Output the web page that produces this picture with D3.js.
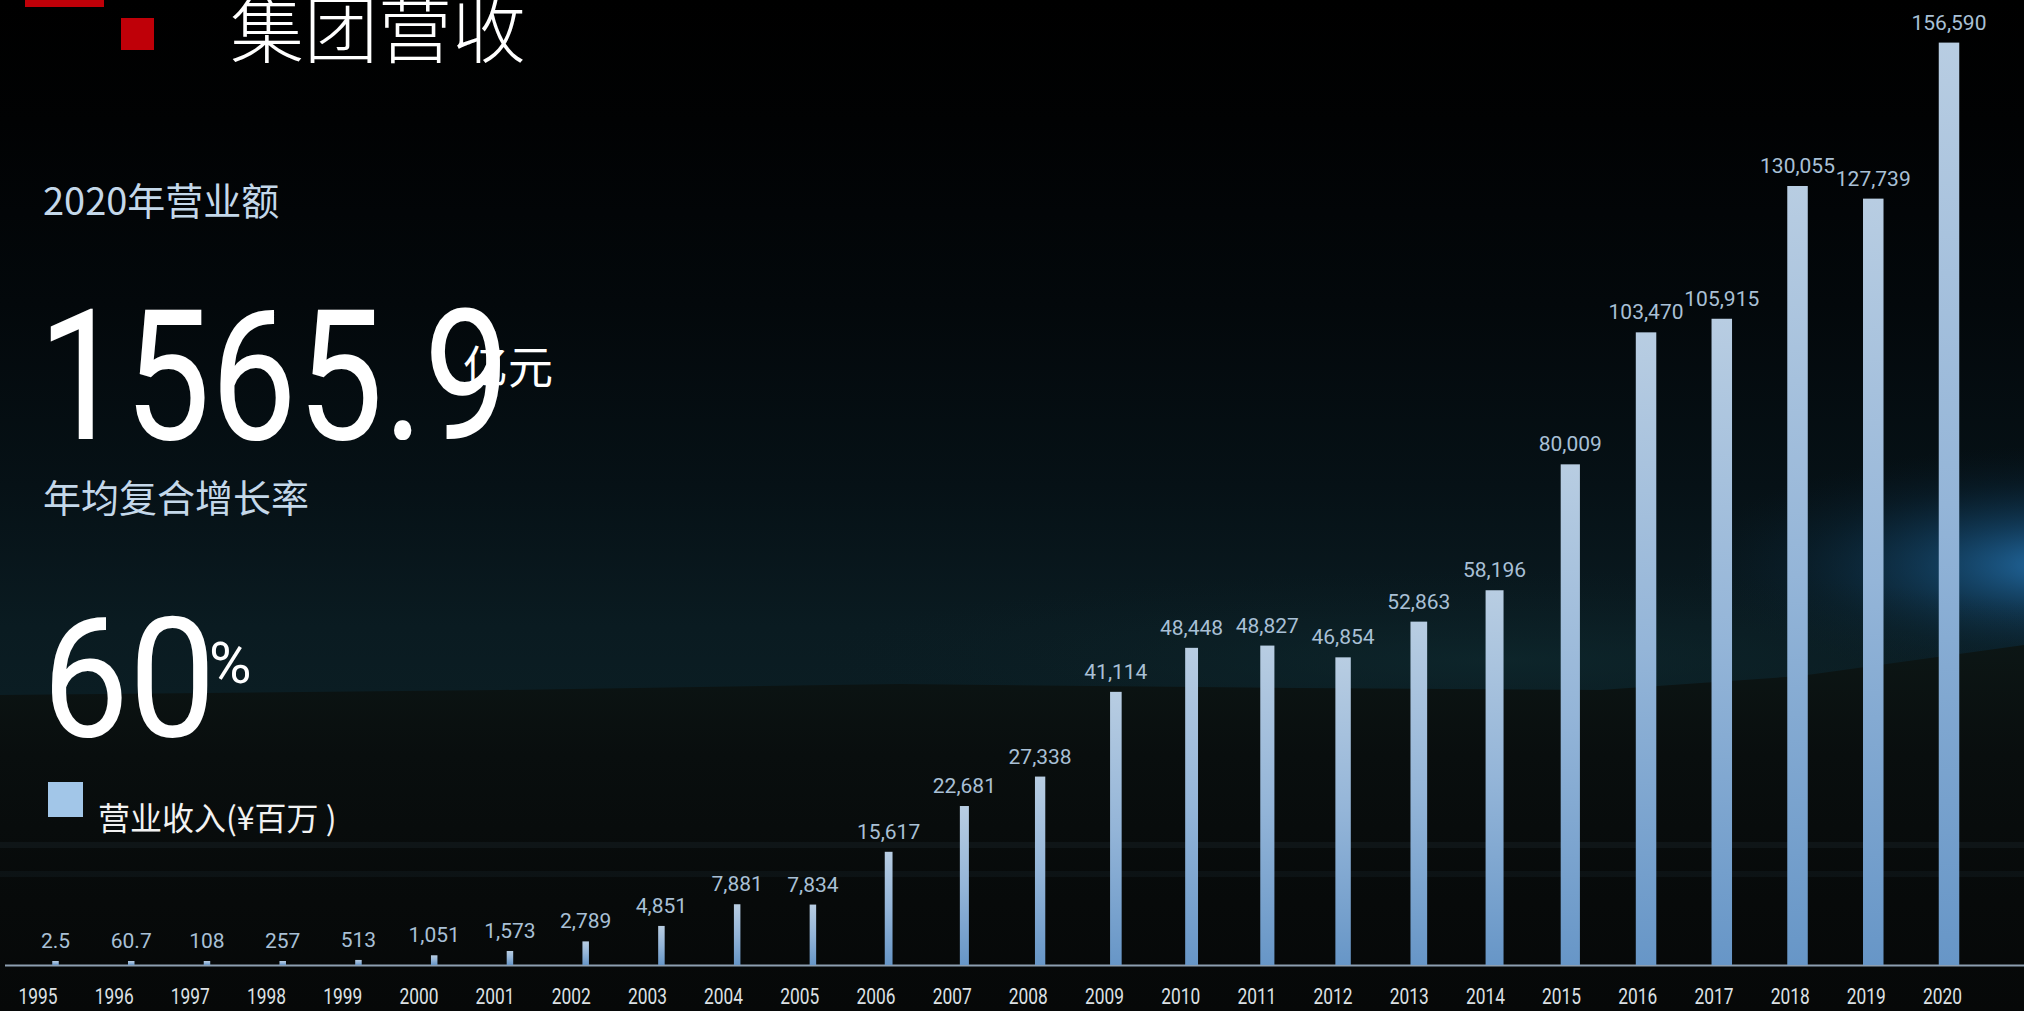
<!DOCTYPE html>
<html><head><meta charset="utf-8">
<script src="https://cdn.jsdelivr.net/npm/d3@7/dist/d3.min.js"></script>
<style>html,body{margin:0;padding:0;background:#000;overflow:hidden}svg{display:block}</style>
</head><body>
<svg id="chart" width="2024" height="1011"></svg>
<script>
// ---- data ----
const years = ["1995","1996","1997","1998","1999","2000","2001","2002","2003","2004","2005","2006","2007","2008","2009","2010","2011","2012","2013","2014","2015","2016","2017","2018","2019","2020"];
const revenue = [2.5, 60.7, 108, 257, 513, 1051, 1573, 2789, 4851, 7881, 7834, 15617, 22681, 27338, 41114, 48448, 48827, 46854, 52863, 58196, 80009, 103470, 105915, 130055, 127739, 156590];
const titleText = "集团营收";
const kpiLabel1 = "2020年营业额";
const kpiValue1 = "1565.9";
const kpiUnit1 = "亿元";
const kpiLabel2 = "年均复合增长率";
const kpiValue2 = "60";
const kpiUnit2 = "%";
const legendLabel = "营业收入(¥百万 )";

// ---- layout ----
const W = 2024, H = 1011;
const baseY = 965, topY = 42.6;
const svg = d3.select("#chart");
const defs = svg.append("defs");
const CJK = "'Noto Sans CJK SC','Noto Sans',sans-serif";
const NUM = "Roboto,'Noto Sans',sans-serif";

// background
const sky = defs.append("linearGradient").attr("id","sky").attr("x1",0).attr("y1",0).attr("x2",0).attr("y2",1);
[[0,"#000000"],[0.12,"#010203"],[0.3,"#03080b"],[0.48,"#061116"],[0.62,"#0a1b21"],[0.72,"#0b1e24"],[1,"#0b1e24"]]
  .forEach(([o,c])=>sky.append("stop").attr("offset",o).attr("stop-color",c));
svg.append("rect").attr("width",W).attr("height",H).attr("fill","url(#sky)");

const glow = defs.append("radialGradient").attr("id","glow");
[[0,"#2a82c8",0.85],[0.35,"#1b5f95",0.5],[0.7,"#0f3a5a",0.2],[1,"#0b2030",0]]
  .forEach(([o,c,a])=>glow.append("stop").attr("offset",o).attr("stop-color",c).attr("stop-opacity",a));
svg.append("ellipse").attr("cx",2070).attr("cy",565).attr("rx",380).attr("ry",120).attr("fill","url(#glow)");

const teal = defs.append("radialGradient").attr("id","teal");
[[0,"#0f2b30",0.6],[1,"#0b1e24",0]].forEach(([o,c,a])=>teal.append("stop").attr("offset",o).attr("stop-color",c).attr("stop-opacity",a));
svg.append("ellipse").attr("cx",1500).attr("cy",660).attr("rx",700).attr("ry",90).attr("fill","url(#teal)");

const ground = defs.append("linearGradient").attr("id","ground").attr("x1",0).attr("y1",0).attr("x2",0).attr("y2",1);
[[0,"#0c1615"],[0.3,"#090e0e"],[0.7,"#070a0a"],[1,"#060808"]]
  .forEach(([o,c])=>ground.append("stop").attr("offset",o).attr("stop-color",c));
const groundPts = [[0,695],[500,690],[900,684],[1300,688],[1600,690],[1800,676],[2024,645],[2024,H],[0,H]];
svg.append("path").attr("d", d3.line()(groundPts) + "Z").attr("fill","url(#ground)");
[[845,0.35],[874,0.3]].forEach(([y,a])=>svg.append("rect").attr("x",0).attr("y",y-3).attr("width",W).attr("height",6).attr("fill","#1c282d").attr("opacity",a));

// title
svg.append("rect").attr("x",25).attr("y",0).attr("width",79).attr("height",7).attr("fill","#bf0008");
svg.append("rect").attr("x",121).attr("y",18).attr("width",33).attr("height",32).attr("fill","#bf0008");
svg.append("text").attr("x",230).attr("y",57).attr("font-family",CJK).attr("font-weight",300)
  .attr("font-size",74).attr("fill","#ffffff").text(titleText);

// KPIs
svg.append("text").attr("x",43).attr("y",215).attr("font-family",CJK).attr("font-size",38).attr("fill","#c4d8ea").text(kpiLabel1);
svg.append("text").attr("x",38).attr("y",439).attr("font-family",NUM).attr("font-size",181).attr("fill","#ffffff")
  .attr("textLength",472).attr("lengthAdjust","spacingAndGlyphs").text(kpiValue1);
svg.append("text").attr("x",463).attr("y",384).attr("font-family",CJK).attr("font-size",45).attr("fill","#ffffff").text(kpiUnit1);
svg.append("text").attr("x",43).attr("y",512).attr("font-family",CJK).attr("font-size",38).attr("fill","#c4d8ea").text(kpiLabel2);
svg.append("text").attr("x",42).attr("y",736).attr("font-family",NUM).attr("font-size",167).attr("fill","#ffffff")
  .attr("textLength",174).attr("lengthAdjust","spacingAndGlyphs").text(kpiValue2);
svg.append("text").attr("x",209).attr("y",683).attr("font-family",NUM).attr("font-size",58).attr("fill","#ffffff").text(kpiUnit2);

// legend
svg.append("rect").attr("x",48).attr("y",782).attr("width",35).attr("height",35).attr("fill","#a2c6e8");
svg.append("text").attr("x",98).attr("y",830).attr("font-family",CJK).attr("font-size",32).attr("fill","#f2f2f2").text(legendLabel);

// scales
const x = d3.scalePoint().domain(years).range([55.5, 1949]);
const xLabel = d3.scalePoint().domain(years).range([37.5, 1942]);
const y = d3.scalePow().exponent(0.91).domain([0, d3.max(revenue)]).range([baseY, topY]);
const barW = d3.scaleLinear().domain([10, 21]).range([6.5, 20.5]).clamp(true);
const fmt = d3.format(",");

const bg = defs.append("linearGradient").attr("id","bar").attr("x1",0).attr("y1",0).attr("x2",0).attr("y2",1);
[[0,"#b8cde2"],[0.5,"#94b5d8"],[1,"#6796c7"]].forEach(([o,c])=>bg.append("stop").attr("offset",o).attr("stop-color",c));

// baseline
svg.append("line").attr("x1",5).attr("x2",W).attr("y1",baseY+0.5).attr("y2",baseY+0.5)
  .attr("stroke","#8d9fb1").attr("stroke-width",2);

const data = years.map((yr,i)=>({yr, v: revenue[i], i}));
const barTop = d => Math.min(y(d.v), baseY - 4);

svg.append("g").selectAll("rect").data(data).join("rect")
  .attr("x", d => x(d.yr) - barW(d.i)/2)
  .attr("width", d => barW(d.i))
  .attr("y", d => barTop(d))
  .attr("height", d => baseY - barTop(d))
  .attr("fill","url(#bar)");

svg.append("g").selectAll("text").data(data).join("text")
  .attr("x", d => x(d.yr))
  .attr("y", d => barTop(d) - 13)
  .attr("text-anchor","middle")
  .attr("font-family",NUM).attr("font-size",21).attr("fill","#a9c0d6")
  .text(d => fmt(d.v));

// year axis
const axis = svg.append("g").attr("transform",`translate(0,${baseY})`)
  .call(d3.axisBottom(xLabel).tickSize(0).tickPadding(23));
axis.select(".domain").remove();
axis.selectAll("text").attr("font-family",NUM).attr("font-size",22).attr("fill","#dde1e5")
  .attr("textLength",39).attr("lengthAdjust","spacingAndGlyphs");
</script>
</body></html>
